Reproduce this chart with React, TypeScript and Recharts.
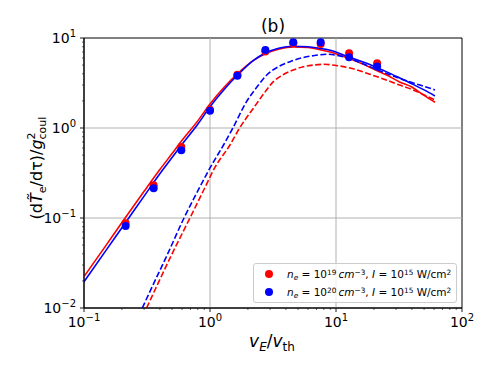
import {
  ComposedChart,
  Line,
  ReferenceArea,
  ReferenceLine,
  Scatter,
  XAxis,
  YAxis,
} from "recharts";

// axis ticks
const X_MAJOR = [0.1, 1, 10, 100];
const X_MINOR = [0.2, 0.3, 0.4, 0.5, 0.6, 0.7, 0.8, 0.9, 2, 3, 4, 5, 6, 7, 8, 9, 20, 30, 40, 50, 60, 70, 80, 90];
const Y_MAJOR = [0.01, 0.1, 1, 10];
const Y_MINOR = [0.02, 0.03, 0.04, 0.05, 0.06, 0.07, 0.08, 0.09, 0.2, 0.3, 0.4, 0.5, 0.6, 0.7, 0.8, 0.9, 2, 3, 4, 5, 6, 7, 8, 9];

// simulation points
const PTS_X = [0.214, 0.357, 0.592, 1.0, 1.65, 2.75, 4.58, 7.56, 12.7, 21.2];
const PTS_RED = [0.0873, 0.231, 0.615, 1.6, 3.9, 7.1, 8.75, 8.6, 6.76, 5.23];
const PTS_BLUE = [0.0815, 0.214, 0.565, 1.55, 3.81, 7.35, 8.96, 8.96, 6.1, 4.81];

// solid model curves
const SOLID_X = [0.1, 0.15, 0.2, 0.3, 0.4, 0.5, 0.6, 0.8, 1.0, 1.3, 1.65, 2.2, 2.75, 3.5, 4.6, 6, 7.5, 9, 12, 15, 20, 25, 32, 40, 50, 61];
const SOLID_RED = [0.0223, 0.05, 0.089, 0.198, 0.345, 0.52, 0.73, 1.2, 1.85, 2.85, 4.0, 5.6, 6.7, 7.5, 7.95, 7.85, 7.4, 7.0, 6.1, 5.4, 4.5, 3.9, 3.25, 2.85, 2.3, 1.93];
const SOLID_BLUE = [0.0196, 0.044, 0.078, 0.175, 0.31, 0.47, 0.66, 1.1, 1.72, 2.7, 3.85, 5.6, 6.8, 7.7, 8.1, 8.0, 7.65, 7.3, 6.3, 5.65, 4.85, 4.23, 3.6, 3.1, 2.65, 2.27];

// dashed model curves
const DASH_BLUE_X = [0.29, 0.35, 0.45, 0.622, 0.8, 1.0, 1.28, 1.49, 1.95, 2.4, 2.82, 3.5, 4.31, 5.3, 6.6, 8.5, 10, 13.7, 18, 25, 32, 40, 46.4, 61];
const DASH_BLUE = [0.01, 0.0176, 0.037, 0.1, 0.2, 0.36, 0.647, 0.95, 1.96, 2.95, 3.88, 4.8, 5.46, 6.0, 6.36, 6.6, 6.45, 5.7, 4.9, 4.05, 3.55, 3.2, 3.0, 2.65];
const DASH_RED_X = [0.314, 0.38, 0.5, 0.693, 0.9, 1.1, 1.44, 1.68, 2.21, 2.7, 3.18, 3.8, 4.58, 5.5, 6.6, 8, 10, 13.7, 18.6, 25, 32, 40, 46.4, 61];
const DASH_RED = [0.01, 0.0178, 0.04, 0.1, 0.21, 0.37, 0.647, 0.95, 1.66, 2.45, 3.27, 3.9, 4.41, 4.8, 5.0, 5.1, 4.95, 4.55, 3.95, 3.42, 3.0, 2.68, 2.45, 2.05];

const zip = (xs: number[], ys: number[]) => xs.map((x, i) => ({ x, y: ys[i] }));

const FONT = "'DejaVu Sans', sans-serif";

const exp = (v: number) => {
  const e = Math.round(Math.log10(v));
  return e < 0 ? `\u2212${-e}` : `${e}`;
};

function XTick({ x, y, payload }: any) {
  const v = payload.value;
  const major = X_MAJOR.includes(v);
  const len = major ? 4 : 2;
  return (
    <g>
      <line x1={x} y1={y} x2={x} y2={y + len} stroke="#000" strokeWidth={major ? 0.9 : 0.6} />
      {major && (
        <text x={x} y={y + 19} textAnchor="middle" fontSize={14} fill="#000" fontFamily={FONT}>
          10<tspan dy={-6} fontSize={10}>{exp(v)}</tspan>
        </text>
      )}
    </g>
  );
}

function YTick({ x, y, payload }: any) {
  const v = payload.value;
  const major = Y_MAJOR.includes(v);
  const len = major ? 4 : 2;
  return (
    <g>
      <line x1={x - len} y1={y} x2={x} y2={y} stroke="#000" strokeWidth={major ? 0.9 : 0.6} />
      {major && (
        <text x={x - 8} y={y + 5} textAnchor="end" fontSize={14} fill="#000" fontFamily={FONT}>
          10<tspan dy={-6} fontSize={10}>{exp(v)}</tspan>
        </text>
      )}
    </g>
  );
}

const sup = { fontSize: "0.7em", verticalAlign: "0.45em", lineHeight: 0 } as const;
const sub = { fontSize: "0.7em", verticalAlign: "-0.25em", lineHeight: 0 } as const;

function LegendRow({ color, ne }: { color: string; ne: string }) {
  return (
    <div style={{ display: "flex", alignItems: "center", height: 18 }}>
      <span
        style={{ width: 8, height: 8, borderRadius: 4, background: color, marginLeft: 11, marginRight: 14 }}
      />
      <span style={{ whiteSpace: "nowrap" }}>
        <i>n</i>
        <i style={sub}>e</i> = 10<span style={sup}>{ne}</span>
        {"\u2009"}
        <i>cm</i>
        <span style={sup}>{"\u22123"}</span>, <i>I</i> = 10<span style={sup}>15</span> W/cm
        <span style={sup}>2</span>
      </span>
    </div>
  );
}

const dot = (color: string) => (p: any) => <circle cx={p.cx} cy={p.cy} r={4} fill={color} />;

export default function App() {
  return (
    <div style={{ position: "absolute", left: 0, top: 0, width: 490, height: 368, background: "#fff", fontFamily: FONT }}>
      <ComposedChart width={490} height={368} margin={{ top: 38, right: 28, bottom: 0, left: 0 }}>
        <XAxis
          dataKey="x"
          type="number"
          scale="log"
          domain={[0.1, 100]}
          allowDataOverflow
          ticks={[...X_MAJOR, ...X_MINOR]}
          interval={0}
          tick={<XTick />}
          tickLine={false}
          tickSize={0}
          tickMargin={0}
          height={60}
          axisLine={{ stroke: "#000" }}
        />
        <YAxis
          dataKey="y"
          type="number"
          scale="log"
          domain={[0.01, 10]}
          allowDataOverflow
          ticks={[...Y_MAJOR, ...Y_MINOR]}
          interval={0}
          tick={<YTick />}
          tickLine={false}
          tickSize={0}
          tickMargin={0}
          width={84}
          axisLine={{ stroke: "#000" }}
        />
        {[1, 10].map((v) => (
          <ReferenceLine key={`vx${v}`} x={v} stroke="#b0b0b0" strokeWidth={1} />
        ))}
        {[0.1, 1].map((v) => (
          <ReferenceLine key={`hy${v}`} y={v} stroke="#b0b0b0" strokeWidth={1} />
        ))}
        <Line data={zip(SOLID_X, SOLID_RED)} dataKey="y" type="monotone" stroke="#ff0000" strokeWidth={1.6} dot={false} isAnimationActive={false} />
        <Line data={zip(DASH_RED_X, DASH_RED)} dataKey="y" type="monotone" stroke="#ff0000" strokeWidth={1.6} strokeDasharray="6 2.5" dot={false} isAnimationActive={false} />
        <Line data={zip(SOLID_X, SOLID_BLUE)} dataKey="y" type="monotone" stroke="#0000ff" strokeWidth={1.6} dot={false} isAnimationActive={false} />
        <Line data={zip(DASH_BLUE_X, DASH_BLUE)} dataKey="y" type="monotone" stroke="#0000ff" strokeWidth={1.6} strokeDasharray="6 2.5" dot={false} isAnimationActive={false} />
        <Scatter data={zip(PTS_X, PTS_RED)} shape={dot("#ff0000")} isAnimationActive={false} />
        <Scatter data={zip(PTS_X, PTS_BLUE)} shape={dot("#0000ff")} isAnimationActive={false} />
        <ReferenceArea x1={0.1} x2={100} y1={0.01} y2={10} fill="none" stroke="#000" strokeWidth={1} ifOverflow="visible" />
      </ComposedChart>

      <svg width={490} height={368} style={{ position: "absolute", left: 0, top: 0, pointerEvents: "none" }}>
        <text x={273} y={32} textAnchor="middle" fontSize={17} fontFamily={FONT} fill="#000">
          (b)
        </text>
        <text transform="translate(42,168) rotate(-90)" textAnchor="middle" fontSize={16} fontFamily={FONT} fill="#000">
          (d<tspan fontStyle="italic">{"T\u0303"}</tspan>
          <tspan dy={4} fontSize={11}>e</tspan>
          <tspan dy={-4}>/dτ)/</tspan>
          <tspan fontStyle="italic">g</tspan>
          <tspan dy={-7} fontSize={11}>2</tspan>
          <tspan dx={-7} dy={11} fontSize={11}>coul</tspan>
        </text>
        <text x={272} y={347} textAnchor="middle" fontSize={17} fontFamily={FONT} fill="#000">
          <tspan fontStyle="italic">v</tspan>
          <tspan dy={4} fontSize={12} fontStyle="italic">E</tspan>
          <tspan dy={-4}>/</tspan>
          <tspan fontStyle="italic">v</tspan>
          <tspan dy={4} fontSize={12}>th</tspan>
        </text>
      </svg>

      <div
        style={{
          position: "absolute",
          left: 253,
          top: 263,
          width: 202,
          height: 37,
          border: "1px solid #cccccc",
          borderRadius: 3,
          background: "rgba(255,255,255,0.8)",
          fontSize: 10.5,
          paddingTop: 1,
          boxSizing: "content-box",
        }}
      >
        <LegendRow color="#ff0000" ne="19" />
        <LegendRow color="#0000ff" ne="20" />
      </div>
    </div>
  );
}
